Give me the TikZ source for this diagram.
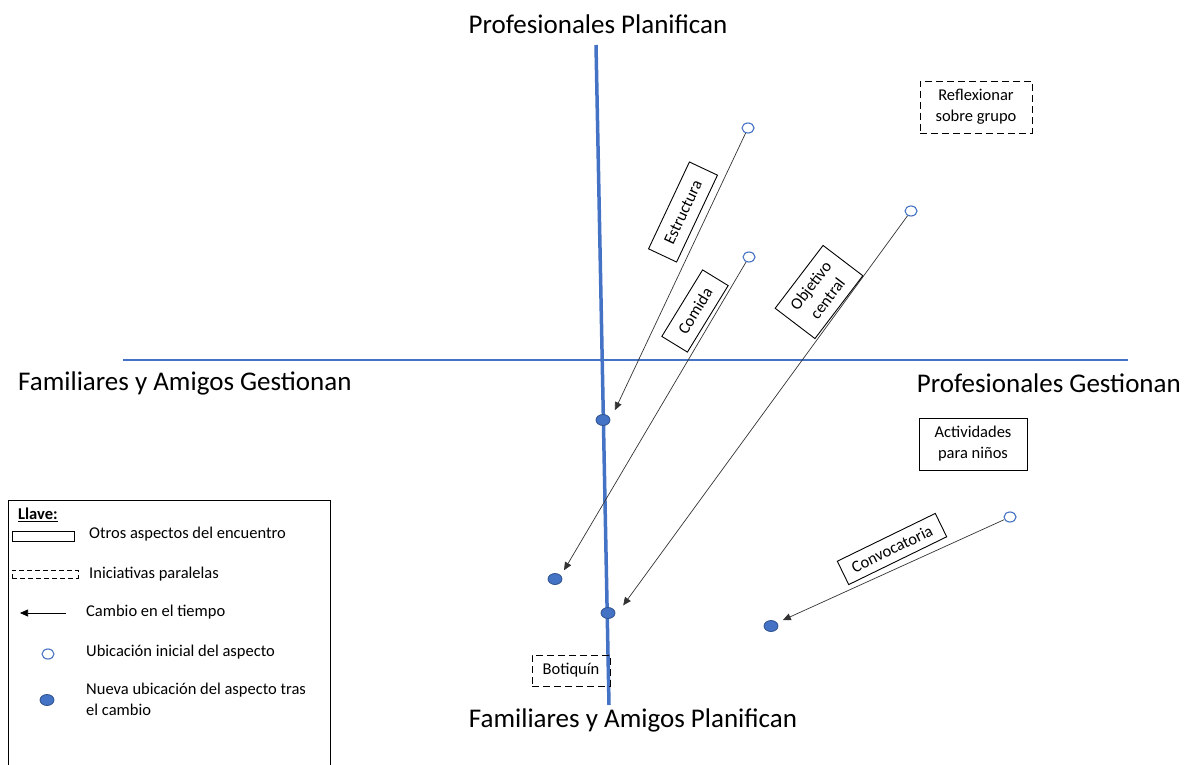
\documentclass[tikz,border=0pt]{standalone}
\usepackage{fontspec}
\setmainfont{Carlito}
\usetikzlibrary{arrows.meta,shapes.geometric}
\definecolor{axisblue}{HTML}{4472C4}
\definecolor{dotedge}{HTML}{2F528F}
\tikzset{
  axis/.style={draw=axisblue},
  big/.style={font=\fontsize{27}{32}\selectfont, inner sep=0pt},
  small/.style={font=\fontsize{16.5}{21}\selectfont},
  aspect/.style={draw, line width=0.9pt, small, align=center, inner sep=0pt},
  parallel/.style={draw, dash pattern=on 7pt off 4pt, line width=0.9pt, small, align=center, inner sep=0pt},
  opendot/.style={ellipse, draw=axisblue, fill=white, line width=1.1pt, minimum width=12pt, minimum height=10pt, inner sep=0pt},
  fulldot/.style={ellipse, draw=dotedge, fill=axisblue, line width=0.8pt, minimum width=14pt, minimum height=11pt, inner sep=0pt},
  change/.style={draw=black!80, line width=0.7pt, -{Triangle[length=8pt,width=7pt]}, shorten >=2pt},
  keytext/.style={small, anchor=west, inner sep=0pt, align=left}
}
\begin{document}
\begin{tikzpicture}[x=1pt,y=-1pt]
\useasboundingbox (0,0) rectangle (1188,765);
% axes
\coordinate (vt) at (596,45);
\coordinate (vb) at (609,705);
\coordinate (hl) at (123,360);
\coordinate (hr) at (1128,360);
\draw[axis, line width=1.5pt] (hl) -- (hr);
\draw[axis, line width=3.5pt] (vt) -- (vb);
% axis labels
\node[big] (pp) at (598,24) {Profesionales Planifican};
\node[big, anchor=west] (fg) at (18,383) {Familiares y Amigos Gestionan};
\node[big, anchor=east] (pg) at (1181,383) {Profesionales Gestionan};
\node[big] (fp) at (633,720) {Familiares y Amigos Planifican};
% dots
\node[opendot] (s1) at (748,128) {};
\node[opendot] (s2) at (749,257) {};
\node[opendot] (s3) at (911,211) {};
\node[opendot] (s4) at (1010,517) {};
\node[fulldot] (e1) at (603,420) {};
\node[fulldot] (e2) at (555,579) {};
\node[fulldot] (e3) at (608,613) {};
\node[fulldot] (e4) at (771,626) {};
% change arrows
\coordinate (t1) at (614,412);
\coordinate (t2) at (563,572);
\coordinate (t3) at (622,607);
\coordinate (t4) at (781,621);
\draw[change] (s1) -- (t1);
\draw[change] (s2) -- (t2);
\draw[change] (s3) -- (t3);
\draw[change] (s4) -- (t4);
% aspect boxes (rotated)
\node[aspect, rotate=64.8, minimum width=96pt, minimum height=31pt] (estr) at (683,212) {Estructura};
\node[aspect, rotate=58.5, minimum width=78pt, minimum height=30pt] (com) at (695,311) {Comida};
\node[aspect, rotate=52.7, minimum width=79pt, minimum height=50pt] (obj) at (819,292) {Objetivo\\central};
\node[aspect, rotate=26, minimum width=109pt, minimum height=26pt] (conv) at (892,549) {Convocatoria};
\node[aspect, minimum width=108pt, minimum height=52pt] (act) at (973,444) {Actividades\\para niños};
% parallel initiatives
\node[parallel, minimum width=112pt, minimum height=52pt] (refl) at (976,107) {Reflexionar\\sobre grupo};
\node[parallel, minimum width=78pt, minimum height=31pt] (bot) at (571,670.5) {Botiquín};
% legend
\draw[line width=0.8pt] (8,500) rectangle (330,770);
\node[small, anchor=west, inner sep=0pt, font=\fontsize{16.5}{20}\selectfont\bfseries] (llave) at (18,515) {\underline{Llave:}};
\node[draw, thin, minimum width=62pt, minimum height=10pt, inner sep=0pt] (k1) at (43,536) {};
\node[keytext] (k1t) at (89,534) {Otros aspectos del encuentro};
\node[draw, dash pattern=on 5pt off 3pt, thin, minimum width=66pt, minimum height=8pt, inner sep=0pt] (k2) at (45,574) {};
\node[keytext] (k2t) at (89,574) {Iniciativas paralelas};
\coordinate (k3a) at (66,613);
\coordinate (k3b) at (20,613);
\draw[line width=0.7pt, -{Triangle[length=8pt,width=7pt]}] (k3a) -- (k3b);
\node[keytext] (k3t) at (86,612) {Cambio en el tiempo};
\node[opendot] (k4) at (48,654) {};
\node[keytext] (k4t) at (86,652) {Ubicación inicial del aspecto};
\node[fulldot] (k5) at (47,700) {};
\node[keytext, anchor=north west] (k5t) at (86,683) {Nueva ubicación del aspecto tras\\el cambio};
\end{tikzpicture}
\end{document}
